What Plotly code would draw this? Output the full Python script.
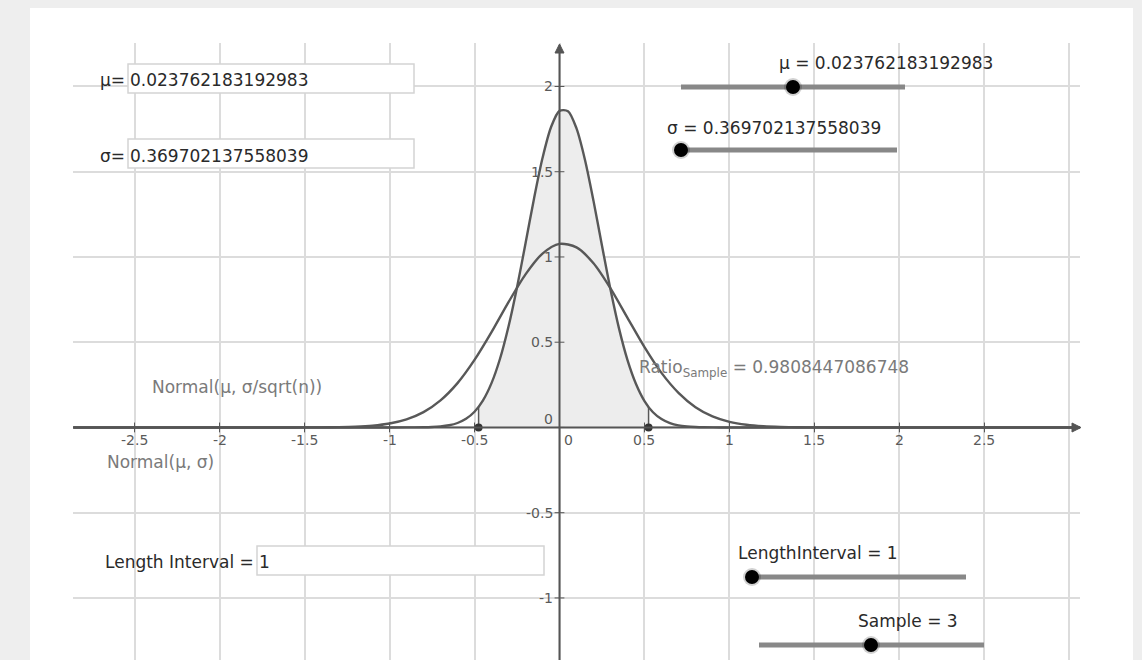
import plotly.graph_objects as go

# ---------------- data ----------------
mu_text = "0.023762183192983"
sigma_text = "0.369702137558039"
ratio_text = "0.9808447086748"
length_interval_text = "1"
sample_text = "3"

# interval ends marked on the x-axis
interval_lo = -0.476
interval_hi = 0.524
interval_lo_height = 0.120
interval_hi_height = 0.120

# Normal(mu, sigma/sqrt(n))  (narrow curve)
narrow_x = [-2.86, -1.0, -0.9, -0.8, -0.75, -0.7, -0.65, -0.6, -0.55, -0.5, -0.45, -0.4, -0.35,
            -0.3, -0.25, -0.2, -0.15, -0.1, -0.05, 0.0, 0.05, 0.1, 0.15, 0.2, 0.25, 0.3,
            0.35, 0.4, 0.45, 0.5, 0.55, 0.6, 0.65, 0.7, 0.75, 0.8, 0.85, 0.95, 1.05, 3.06]
narrow_y = [0.0, 0.0, 0.0002, 0.0011, 0.0026, 0.006, 0.0128, 0.0261, 0.0504, 0.092, 0.159, 0.260, 0.403,
            0.592, 0.821, 1.079, 1.342, 1.580, 1.761, 1.857, 1.855, 1.754, 1.569, 1.329, 1.066, 0.809,
            0.581, 0.395, 0.255, 0.155, 0.089, 0.049, 0.025, 0.012, 0.0057, 0.0025, 0.001, 0.0001, 0.0, 0.0]

# Normal(mu, sigma)  (wide curve)
wide_x = [-2.86, -1.8, -1.6, -1.5, -1.4, -1.3, -1.2, -1.1, -1.0, -0.9, -0.8, -0.7, -0.6, -0.5, -0.4,
          -0.3, -0.2, -0.1, 0.0, 0.1, 0.2, 0.3, 0.4, 0.5, 0.6, 0.7, 0.8, 0.9, 1.0, 1.1, 1.2,
          1.3, 1.4, 1.5, 1.6, 1.8, 3.06]
wide_y = [0.0, 0.0, 0.0001, 0.0002, 0.0006, 0.0018, 0.0045, 0.0106, 0.0233, 0.0476, 0.090, 0.159, 0.260,
          0.396, 0.559, 0.735, 0.898, 1.020, 1.077, 1.056, 0.963, 0.816, 0.643, 0.471, 0.320, 0.203,
          0.119, 0.065, 0.033, 0.0156, 0.0069, 0.0028, 0.0011, 0.0004, 0.0001, 0.0, 0.0]

x_ticks = [-2.5, -2, -1.5, -1, -0.5, 0, 0.5, 1, 1.5, 2, 2.5]
x_tick_labels = ["-2.5", "-2", "-1.5", "-1", "-0.5", "0", "0.5", "1", "1.5", "2", "2.5"]
y_ticks = [2, 1.5, 1, 0.5, 0, -0.5, -1]
y_tick_labels = ["2", "1.5", "1", "0.5", "0", "-0.5", "-1"]

# ---------------- layout geometry ----------------
W, H = 1142, 660
ML, MR, MT, MB = 73, 62, 43, 0
PW, PH = W - ML - MR, H - MT - MB
X_RANGE = [-2.862, 3.062]
Y_RANGE = [-1.364, 2.255]


def px(x):
    return (x - ML) / PW


def py(y):
    return (H - MB - y) / PH


FONT = "DejaVu Sans"
AX_COL = "#555555"
CURVE_COL = "#585858"

fig = go.Figure()

# shaded area under the narrow curve between the interval ends
fill_x = [interval_lo, interval_lo] + [x for x in narrow_x if interval_lo < x < interval_hi] + [interval_hi, interval_hi]
fill_y = [0, interval_lo_height] + [y for x, y in zip(narrow_x, narrow_y) if interval_lo < x < interval_hi] + [interval_hi_height, 0]
fig.add_trace(go.Scatter(x=fill_x, y=fill_y, mode="lines", fill="toself",
                         fillcolor="#ededed", line=dict(width=0), hoverinfo="skip",
                         showlegend=False))

# edges of the shaded area
fig.add_trace(go.Scatter(x=[interval_lo, interval_lo, None, interval_hi, interval_hi],
                         y=[0, interval_lo_height, None, 0, interval_hi_height],
                         mode="lines", line=dict(color=CURVE_COL, width=1.5),
                         hoverinfo="skip", showlegend=False))

# curves
fig.add_trace(go.Scatter(x=wide_x, y=wide_y, mode="lines",
                         line=dict(color=CURVE_COL, width=2.4, shape="spline", smoothing=0.8),
                         showlegend=False, name="Normal(μ, σ)"))
fig.add_trace(go.Scatter(x=narrow_x, y=narrow_y, mode="lines",
                         line=dict(color=CURVE_COL, width=2.4, shape="spline", smoothing=0.8),
                         showlegend=False, name="Normal(μ, σ/sqrt(n))"))

# axis tick marks
fig.add_trace(go.Scatter(x=x_ticks, y=[0] * len(x_ticks), mode="markers",
                         marker=dict(symbol="line-ns", size=7, line=dict(color=AX_COL, width=1)),
                         hoverinfo="skip", showlegend=False))
fig.add_trace(go.Scatter(x=[0] * len(y_ticks), y=y_ticks, mode="markers",
                         marker=dict(symbol="line-ew", size=7, line=dict(color=AX_COL, width=1)),
                         hoverinfo="skip", showlegend=False))

# interval end points
fig.add_trace(go.Scatter(x=[interval_lo, interval_hi], y=[0, 0], mode="markers",
                         marker=dict(color="#333333", size=8), hoverinfo="skip", showlegend=False))

shapes = []
annotations = []

# white panel behind everything
shapes.append(dict(type="rect", xref="paper", yref="paper", x0=px(30), x1=px(1133), y0=py(670), y1=py(8),
                   fillcolor="white", line=dict(width=0), layer="below"))

# axes lines
shapes.append(dict(type="line", xref="x domain", yref="y", x0=0, x1=0.998, y0=0, y1=0,
                   line=dict(color=AX_COL, width=2)))
shapes.append(dict(type="line", xref="x", yref="y domain", x0=0, x1=0, y0=0, y1=0.996,
                   line=dict(color=AX_COL, width=2)))

# arrow heads (screen-pixel geometry)
AX_Y = 427.5   # pixel row of the x-axis
AY_X = 559.5   # pixel column of the y-axis
tipx = 1081
shapes.append(dict(type="path", xref="paper", yref="paper",
                   path=f"M {px(tipx)} {py(AX_Y)} L {px(tipx-9)} {py(AX_Y-4.5)} L {px(tipx-9)} {py(AX_Y+4.5)} Z",
                   fillcolor=AX_COL, line=dict(color=AX_COL, width=1)))
tipy = 44
shapes.append(dict(type="path", xref="paper", yref="paper",
                   path=f"M {px(AY_X)} {py(tipy)} L {px(AY_X-4.5)} {py(tipy+9)} L {px(AY_X+4.5)} {py(tipy+9)} Z",
                   fillcolor=AX_COL, line=dict(color=AX_COL, width=1)))

TICK_FONT = dict(family=FONT, size=14, color="#5a5a5a")
for v, t in zip(x_ticks, x_tick_labels):
    annotations.append(dict(xref="x", yref="y", x=v, y=0, text=t, showarrow=False,
                            xanchor="center", yanchor="middle", yshift=-13,
                            xshift=9 if v == 0 else 0, font=TICK_FONT))
for v, t in zip(y_ticks, y_tick_labels):
    annotations.append(dict(xref="x", yref="y", x=0, y=v, text=t, showarrow=False,
                            xanchor="right", yanchor="middle", xshift=-5,
                            yshift=8 if v == 0 else 0, font=TICK_FONT))

TXT = dict(family=FONT, size=17, color="#2a2a2a")
GREY = dict(family=FONT, size=17, color="#7a7a7a")


def text(x, y, s, font, anchor="left"):
    annotations.append(dict(xref="paper", yref="paper", x=px(x), y=py(y), text=s, showarrow=False,
                            xanchor=anchor, yanchor="middle", font=font))


def box(x0, x1, y0, y1):
    shapes.append(dict(type="rect", xref="paper", yref="paper", x0=px(x0), x1=px(x1), y0=py(y1), y1=py(y0),
                       fillcolor="white", line=dict(color="#d4d4d4", width=1.5)))


def slider(x0, x1, y, knob):
    shapes.append(dict(type="line", xref="paper", yref="paper", x0=px(x0), x1=px(x1), y0=py(y), y1=py(y),
                       line=dict(color="#888888", width=5)))
    r2 = 9
    shapes.append(dict(type="circle", xref="paper", yref="paper", x0=px(knob - r2), x1=px(knob + r2),
                       y0=py(y + r2), y1=py(y - r2), fillcolor="rgba(0,0,0,0.18)", line=dict(width=0)))
    r = 7
    shapes.append(dict(type="circle", xref="paper", yref="paper", x0=px(knob - r), x1=px(knob + r),
                       y0=py(y + r), y1=py(y - r), fillcolor="black", line=dict(width=0)))


# input boxes
box(128, 414, 64, 93)
text(98, 80, "μ=", TXT)
text(128, 80, mu_text, TXT)
box(128, 414, 139, 168)
text(98, 156, "σ=", TXT)
text(128, 156, sigma_text, TXT)
box(257, 544, 546, 575)
text(103, 562, "Length Interval =", TXT)
text(257, 562, length_interval_text, TXT)

# sliders
text(777, 63, "μ = " + mu_text, TXT)
slider(681, 905, 87, 793)
text(665, 128, "σ = " + sigma_text, TXT)
slider(681, 897, 150, 681)
text(736, 553, "LengthInterval = " + length_interval_text, TXT)
slider(752, 966, 577, 752)
text(856, 621, "Sample = " + sample_text, TXT)
slider(759, 984, 645, 871)

# curve labels
text(150, 387, "Normal(μ, σ/sqrt(n))", GREY)
text(105, 462, "Normal(μ, σ)", GREY)
text(637, 368, "Ratio<sub>Sample</sub> = " + ratio_text, GREY)

fig.update_layout(
    width=W, height=H, autosize=False,
    margin=dict(l=ML, r=MR, t=MT, b=MB, pad=0),
    paper_bgcolor="#eeeeee", plot_bgcolor="rgba(0,0,0,0)",
    xaxis=dict(range=X_RANGE, tick0=0, dtick=0.5, showgrid=True, gridcolor="#dcdcdc", gridwidth=2,
               zeroline=False, showticklabels=False, ticks="", showline=False, fixedrange=True),
    yaxis=dict(range=Y_RANGE, tick0=0, dtick=0.5, showgrid=True, gridcolor="#dcdcdc", gridwidth=2,
               zeroline=False, showticklabels=False, ticks="", showline=False, fixedrange=True),
    shapes=shapes, annotations=annotations, showlegend=False,
)

fig.write_html("out.html", config={"displayModeBar": False},
               post_script="document.body.style.margin='0';document.body.style.background='#eeeeee';")
